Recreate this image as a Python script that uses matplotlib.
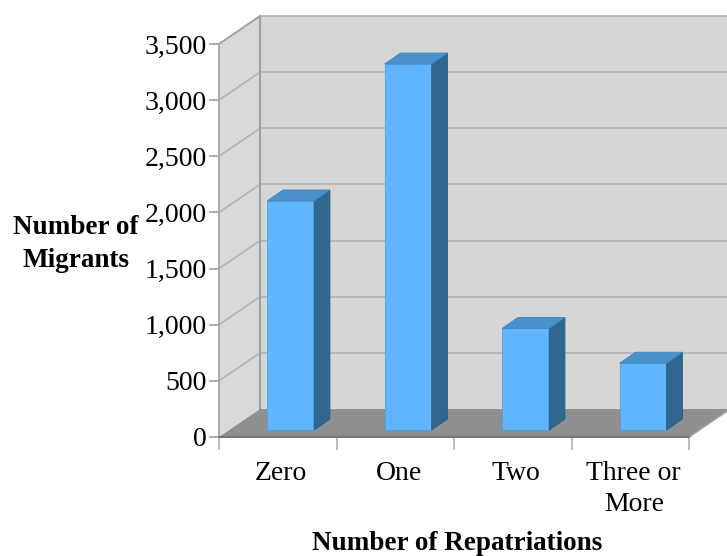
import numpy as np
import matplotlib.pyplot as plt
from matplotlib.patches import Polygon

# data
categories = ["Zero", "One", "Two", "Three or\nMore"]
migrants = [2040, 3260, 905, 595]
yticks = [0, 500, 1000, 1500, 2000, 2500, 3000, 3500]
ytick_labels = ["0", "500", "1,000", "1,500", "2,000", "2,500", "3,000", "3,500"]

plt.rcParams['font.family'] = ['Liberation Serif', 'DejaVu Serif']

fig = plt.figure(figsize=(7.27, 5.56), dpi=100)
ax = fig.add_axes([219/727, 1 - 437/556, 470/727, 393/556])
ax.set_xlim(-0.5, 3.5)
ax.set_ylim(0, 3500)

# 3d depth offsets (data units)
DX, DY = 0.349, 249
ymax = yticks[-1]
grid_c = "#b3b3b3"
wall_c = "#d6d6d6"

# back wall, left wall, floor
ax.add_patch(Polygon([(-0.5 + DX, DY), (3.5 + DX, DY), (3.5 + DX, ymax + DY), (-0.5 + DX, ymax + DY)],
                     closed=True, fc=wall_c, ec="none", clip_on=False, zorder=0))
ax.add_patch(Polygon([(-0.5, 0), (-0.5, ymax), (-0.5 + DX, ymax + DY), (-0.5 + DX, DY)],
                     closed=True, fc="#d9d9d9", ec="none", clip_on=False, zorder=0))
for v in yticks[1:]:
    ax.plot([-0.5 + DX, 3.5 + DX], [v + DY, v + DY], color=grid_c, lw=1.2, clip_on=False, zorder=1)
    ax.plot([-0.5, -0.5 + DX], [v, v + DY], color=grid_c, lw=1.2, clip_on=False, zorder=1)
ax.plot([-0.5 + DX, -0.5 + DX], [DY, ymax + DY], color="#a0a0a0", lw=1.5, clip_on=False, zorder=1)
ax.plot([-0.5, -0.5 + DX], [ymax, ymax + DY], color="#a0a0a0", lw=1.2, clip_on=False, zorder=1)
ax.add_patch(Polygon([(-0.5, 0), (3.5, 0), (3.5 + DX, DY), (-0.5 + DX, DY)],
                     closed=True, fc="#8f8f8f", ec="none", clip_on=False, zorder=2))

# bars
x = np.arange(len(categories))
w = 0.4
bdx, bdy = 0.11, 62       # bar front offset into the box
sdx, sdy = 0.134, 98      # bar depth
ax.bar(x + bdx, migrants, width=w, bottom=bdy, color="#5fb5fe", edgecolor="#4f9ee0", lw=0.6, zorder=3)
for xi, v in zip(x, migrants):
    r = xi + bdx + w / 2
    l = xi + bdx - w / 2
    top = bdy + v
    ax.add_patch(Polygon([(r, bdy), (r, top), (r + sdx, top + sdy), (r + sdx, bdy + sdy)],
                         closed=True, fc="#30678f", ec="#2a5c80", lw=0.6, zorder=3, clip_on=False))
    ax.add_patch(Polygon([(l, top), (r, top), (r + sdx, top + sdy), (l + sdx, top + sdy)],
                         closed=True, fc="#4a90c9", ec="#4287bf", lw=0.6, zorder=3, clip_on=False))

# front edges
ax.plot([3.5, 3.5 + DX], [0, DY], color="#a0a0a0", lw=1.2, clip_on=False, zorder=2)
for s in ["top", "right"]:
    ax.spines[s].set_visible(False)
ax.spines["left"].set_color("#a0a0a0")
ax.spines["bottom"].set_color("#777777")
ax.spines["left"].set_linewidth(1.2)
ax.spines["bottom"].set_linewidth(1.5)

ax.set_yticks(yticks)
ax.set_yticklabels(ytick_labels, fontsize=20)
ax.tick_params(axis="y", length=7, color="#a0a0a0", width=1.2, pad=2)
ax.set_xticks(x + 0.03)
ax.set_xticklabels(categories, fontsize=20, linespacing=1.33)
ax.tick_params(axis="x", length=0, pad=17)
ax.set_xticks(np.arange(-0.5, 4, 1), minor=True)
ax.tick_params(axis="x", which="minor", length=9, color="#b3b3b3", width=1.2)

fig.text(457/727, 1 - 543/556, "Number of Repatriations", fontsize=19.5, fontweight="bold",
         ha="center", va="center")
fig.text(76/727, 1 - 244/556, "Number of\nMigrants", fontsize=19.5, fontweight="bold",
         ha="center", va="center", linespacing=1.4)

fig.savefig("out.png", dpi=100)
